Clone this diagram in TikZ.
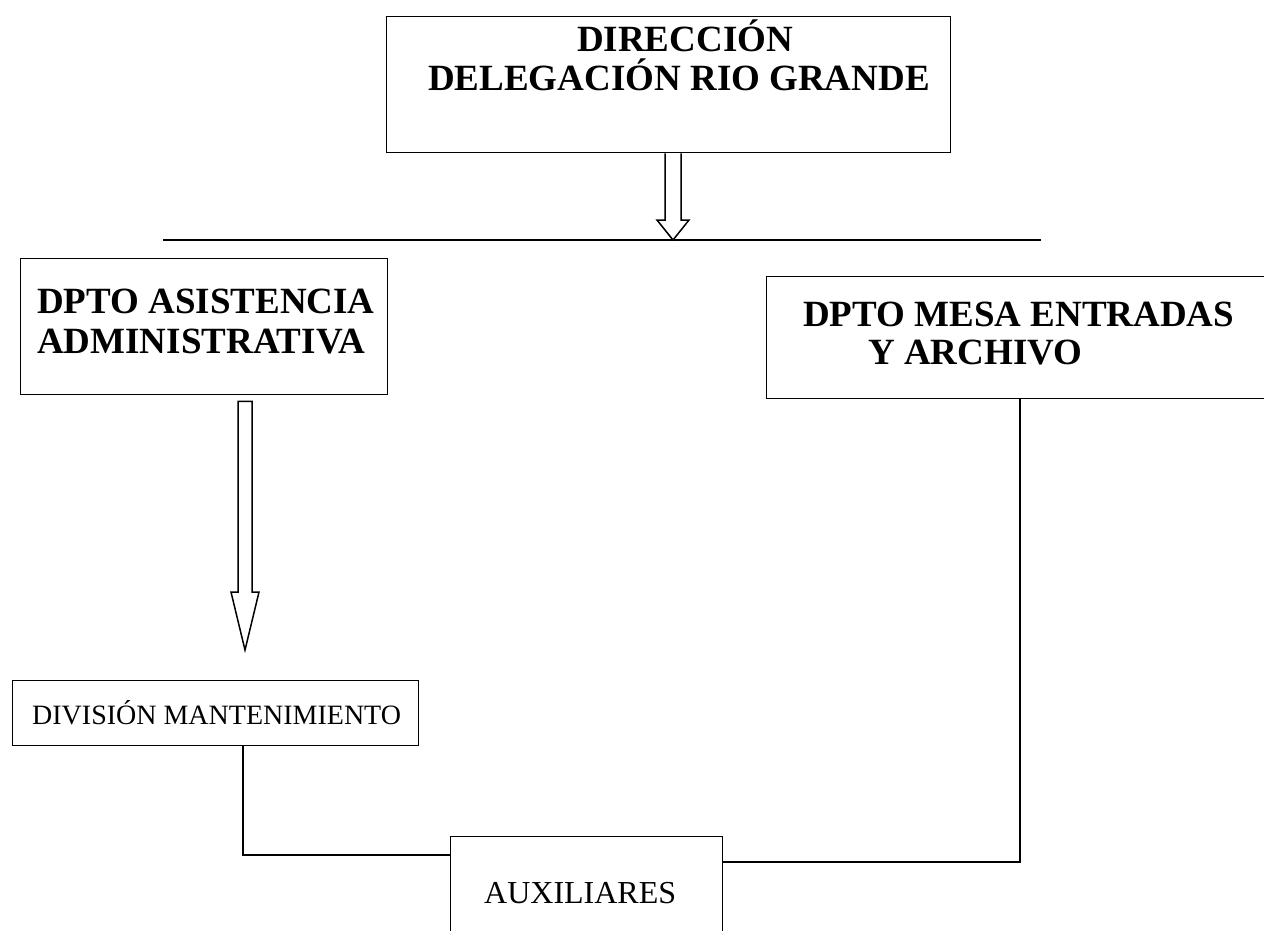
\documentclass[tikz,border=0pt]{standalone}
\usepackage{fontspec}
\setmainfont{Liberation Serif}
\usetikzlibrary{calc}
\begin{document}
\begin{tikzpicture}[x=1pt,y=-1pt,
  box/.style={draw, line width=1.4pt, inner sep=0pt, anchor=north west},
  lbl/.style={inner sep=0pt, font=\fontsize{37}{40}\selectfont\bfseries},
  lblsm/.style={inner sep=0pt, font=\fontsize{28}{30}\selectfont},
  conn/.style={line width=1.3pt},
  blk/.style={line width=1.5pt, fill=white, line join=miter}]
\fill[white] (0,0) rectangle (1264,930);
\useasboundingbox (0,0) rectangle (1264,930);
% boxes
\node[box, minimum width=564, minimum height=136] (dir) at (386,16) {};
\node[box, minimum width=367, minimum height=136] (asis) at (20,258) {};
\node[box, minimum width=534, minimum height=122] (mesa) at (766,276) {};
\node[box, minimum width=406, minimum height=65] (div) at (12,680) {};
\node[box, minimum width=272, minimum height=120] (aux) at (450,836) {};
% texts
\node[lbl, anchor=base] (t1) at (685,51) {DIRECCIÓN};
\node[lbl, anchor=base west] (t2) at (428,90) {DELEGACIÓN RIO GRANDE};
\node[lbl, anchor=base west] (t3) at (37,313) {DPTO ASISTENCIA};
\node[lbl, anchor=base west] (t4) at (37,353) {ADMINISTRATIVA};
\node[lbl, anchor=base west] (t5) at (803,326) {DPTO MESA ENTRADAS};
\node[lbl, anchor=base west] (t6) at (868,364) {Y ARCHIVO};
\node[lblsm, anchor=base west] (t7) at (32,724) {DIVISIÓN MANTENIMIENTO};
\node[lblsm, font=\fontsize{32}{34}\selectfont, anchor=base west] (t8) at (484,903) {AUXILIARES};
% horizontal distribution line
\coordinate (hl) at (163,240);
\coordinate (hr) at (1041,240);
\coordinate (hm) at (673,240);
\draw[conn] (hl) -- (hr);
% block arrow from direction
\draw[blk] ($(dir.south -| hm)+(-8,0)$) -- ($(hm)+(-8,-20)$) -- ($(hm)+(-16,-20)$) -- (hm)
  -- ($(hm)+(16,-20)$) -- ($(hm)+(8,-20)$) -- ($(dir.south -| hm)+(8,0)$);
% block arrow to division
\coordinate (a2) at (245,650);
\draw[blk] ($(asis.south -| a2)+(-7,6)$) -- ($(a2)+(-7,-58)$) -- ($(a2)+(-14,-58)$) -- (a2)
  -- ($(a2)+(14,-58)$) -- ($(a2)+(7,-58)$) -- ($(asis.south -| a2)+(7,6)$) -- cycle;
% connectors to auxiliares
\coordinate (c1) at (243,855);
\coordinate (c2) at (1020,862);
\draw[conn] (div.south -| c1) -- (c1) -- (aux.west |- c1);
\draw[conn] (aux.east |- c2) -- (c2) -- (mesa.south -| c2);
\end{tikzpicture}
\end{document}
